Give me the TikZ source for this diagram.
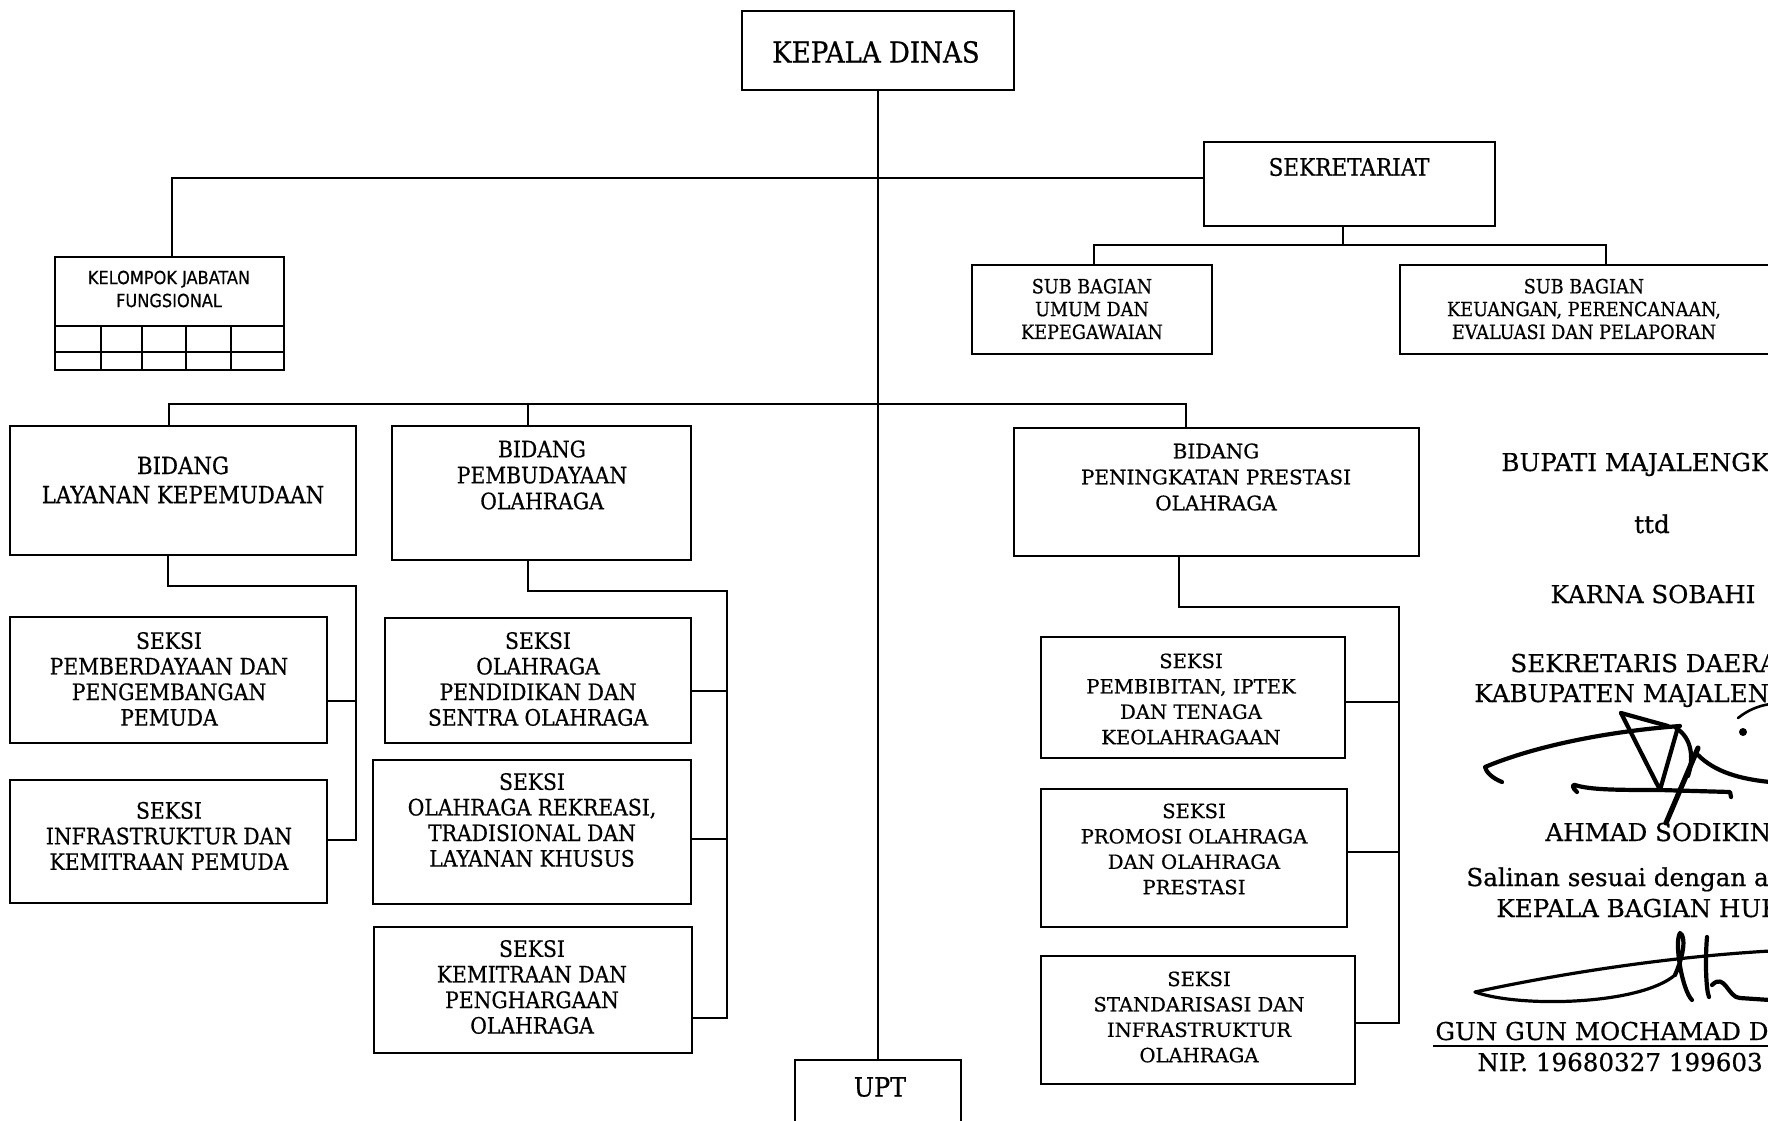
\documentclass[tikz,border=0pt]{standalone}
\usepackage{fontspec}
\setmainfont{DejaVu Serif}[FakeBold=0.6]
\newfontfamily\condserif{DejaVu Serif Condensed}[FakeBold=0.6]
\newfontfamily\condsans{DejaVu Sans Condensed}[FakeBold=0.5]
\usetikzlibrary{calc}

% box given by its corners (x1,y1) and (x2,y2), in picture units
\newcommand\orgbox[5]{%
  \pgfmathsetmacro\orgbxc{(#2+#4)/2}%
  \pgfmathsetmacro\orgbyc{(#3+#5)/2}%
  \pgfmathsetmacro\orgbw{(#4-#2)/2}%
  \pgfmathsetmacro\orgbh{(#5-#3)/2}%
  \node[box, minimum width=\orgbw pt, minimum height=\orgbh pt] (#1) at (\orgbxc,\orgbyc) {};}

\begin{document}
\begin{tikzpicture}[x=0.5pt,y=-0.5pt,
  box/.style={draw, line width=1.25pt, inner sep=0pt, outer sep=0pt},
  conn/.style={line width=1pt},
  boxtext/.style={align=center, inner sep=0pt, font=\condserif\fontsize{11.3}{12.8}\selectfont},
  widetext/.style={align=center, inner sep=0pt, font=\fontsize{9.8}{11.4}\selectfont},
  signtext/.style={inner sep=0pt, font=\fontsize{12.3}{14}\selectfont},
  pen/.style={line width=2.1pt, line cap=round, line join=round}]

\useasboundingbox (0,0) rectangle (1768,1120);
\clip (0,0) rectangle (1768,1120);

% ---------- boxes ----------
\orgbox{kd}{742}{11}{1014}{90}
\orgbox{sek}{1204}{142}{1495}{226}
\orgbox{sb1}{972}{265}{1212}{354}
\orgbox{sb2}{1400}{265}{1790}{354}
\orgbox{kjf}{55}{257}{284}{370}
\orgbox{bl}{10}{426}{356}{555}
\orgbox{bp}{392}{426}{691}{560}
\orgbox{bpp}{1014}{428}{1419}{556}
\orgbox{s1}{10}{617}{327}{743}
\orgbox{s2}{10}{780}{327}{903}
\orgbox{s3}{385}{618}{691}{743}
\orgbox{s4}{373}{760}{691}{904}
\orgbox{s5}{374}{927}{692}{1053}
\orgbox{s6}{1041}{637}{1345}{758}
\orgbox{s7}{1041}{789}{1347}{927}
\orgbox{s8}{1041}{956}{1355}{1084}
\orgbox{upt}{795}{1060}{961}{1150}

% grid of the functional group box
\draw[line width=1.25pt] (55,326) -- (284,326) (55,352) -- (284,352);
\foreach \gx in {101,142,186,231} \draw[line width=1.1pt] (\gx,326) -- (\gx,370);

% ---------- texts ----------
\node[boxtext, font=\condserif\fontsize{14.5}{16}\selectfont] (t-kd) at (876,52) {KEPALA DINAS};
\node[boxtext, font=\condserif\fontsize{12}{14}\selectfont] (t-sek) at (1349,167) {SEKRETARIAT};
\node[boxtext, font=\condserif\fontsize{9.8}{11.4}\selectfont] (t-sb1) at (1092,309) {SUB BAGIAN\\UMUM DAN\\KEPEGAWAIAN};
\node[boxtext, font=\condserif\fontsize{9.8}{11.4}\selectfont] (t-sb2) at (1584,309) {SUB BAGIAN\\KEUANGAN, PERENCANAAN,\\EVALUASI DAN PELAPORAN};
\node[boxtext, font=\condsans\fontsize{9}{11.5}\selectfont] (t-kjf) at (169,289) {KELOMPOK JABATAN\\FUNGSIONAL};
\node[boxtext, font=\condserif\fontsize{11.8}{14.6}\selectfont] (t-bl) at (183,480) {BIDANG\\LAYANAN KEPEMUDAAN};
\node[boxtext, font=\condserif\fontsize{11.3}{13}\selectfont] (t-bp) at (542,475) {BIDANG\\PEMBUDAYAAN\\OLAHRAGA};
\node[widetext, font=\fontsize{10}{13}\selectfont] (t-bpp) at (1216,477) {BIDANG\\PENINGKATAN PRESTASI\\OLAHRAGA};
\node[boxtext] (t-s1) at (169,679) {SEKSI\\PEMBERDAYAAN DAN\\PENGEMBANGAN\\PEMUDA};
\node[boxtext] (t-s2) at (169,836) {SEKSI\\INFRASTRUKTUR DAN\\KEMITRAAN PEMUDA};
\node[boxtext] (t-s3) at (538,679) {SEKSI\\OLAHRAGA\\PENDIDIKAN DAN\\SENTRA OLAHRAGA};
\node[boxtext] (t-s4) at (532,820) {SEKSI\\OLAHRAGA REKREASI,\\TRADISIONAL DAN\\LAYANAN KHUSUS};
\node[boxtext] (t-s5) at (532,987) {SEKSI\\KEMITRAAN DAN\\PENGHARGAAN\\OLAHRAGA};
\node[widetext, font=\fontsize{9.8}{12.7}\selectfont] (t-s6) at (1191,699) {SEKSI\\PEMBIBITAN, IPTEK\\DAN TENAGA\\KEOLAHRAGAAN};
\node[widetext, font=\fontsize{9.8}{12.7}\selectfont] (t-s7) at (1194,849) {SEKSI\\PROMOSI OLAHRAGA\\DAN OLAHRAGA\\PRESTASI};
\node[widetext, font=\fontsize{9.8}{12.7}\selectfont] (t-s8) at (1199,1017) {SEKSI\\STANDARISASI DAN\\INFRASTRUKTUR\\OLAHRAGA};
\node[boxtext, font=\condserif\fontsize{13.3}{15}\selectfont] (t-upt) at (880,1087) {UPT};

% ---------- connectors ----------
\draw[conn] (kd.south) -- (upt.north);
\draw[conn] ($(kjf.north west)+(117,0)$) |- ($(sek.north west)+(0,36)$);

\coordinate (sekbus) at ($(sek.south west)+(139,19)$);
\draw[conn] ($(sek.south west)+(139,0)$) -- (sekbus);
\draw[conn] ($(sb1.north west)+(122,0)$) |- (sekbus) -| ($(sb2.north west)+(206,0)$);

\coordinate (bidbus) at ($(kd.south)+(0,314)$);
\draw[conn] ($(bl.north west)+(159,0)$) |- (bidbus) -| ($(bpp.north west)+(172,0)$);
\draw[conn] ($(bp.north west)+(136,0)$) |- (bidbus);

\coordinate (lbus) at ($(bl.south east)+(0,31)$);
\draw[conn] ($(bl.south west)+(158,0)$) |- (lbus) |- ($(s2.east)+(0,-2)$);
\draw[conn] ($(s1.east)+(0,21)$) -| (lbus);

\coordinate (mbus) at ($(bp.south east)+(36,31)$);
\draw[conn] ($(bp.south west)+(136,0)$) |- (mbus) |- ($(s5.east)+(0,28)$);
\draw[conn] ($(s3.east)+(0,10)$) -| (mbus);
\draw[conn] ($(s4.east)+(0,7)$) -| (mbus);

\coordinate (rbus) at ($(bpp.south east)+(-20,51)$);
\draw[conn] ($(bpp.south west)+(165,0)$) |- (rbus) |- ($(s8.east)+(0,3)$);
\draw[conn] ($(s6.east)+(0,4)$) -| (rbus);
\draw[conn] ($(s7.east)+(0,-6)$) -| (rbus);

% ---------- signature block ----------
\node[signtext, anchor=base west] (bupati) at (1501,471) {BUPATI MAJALENGKA};
\node[signtext, anchor=base] (ttd) at (1652,533) {ttd};
\node[signtext, anchor=base] (karna) at (1653,603) {KARNA SOBAHI};
\node[signtext, anchor=base west] (sekda) at (1510,672) {SEKRETARIS DAERAH};
\node[signtext, anchor=base west] (kab) at (1474,702) {KABUPATEN MAJALENGKA};
\node[signtext, anchor=base west] (ahmad) at (1545,841) {AHMAD SODIKIN};
\node[signtext, anchor=base west] (salinan) at (1466,886) {Salinan sesuai dengan aslinya};
\node[signtext, anchor=base west] (kabag) at (1496,917) {KEPALA BAGIAN HUKUM};
\node[signtext, anchor=base west] (gungun) at (1435,1040) {GUN GUN MOCHAMAD D};
\node[signtext, anchor=base west] (nip) at (1477,1071) {NIP. 19680327 199603};
\draw[line width=1.1pt] ($(gungun.base west)+(-2,6)$) -- (1770,1046);

% first handwritten signature
\draw[pen] (1502,782) .. controls (1492,778) and (1486,772) .. (1485,767)
           .. controls (1530,748) and (1600,732) .. (1680,726);
\draw[pen] (1621,713) -- (1660,790) -- (1678,727);
\draw[pen] (1621,713) -- (1668,726);
\draw[pen] (1676,728) .. controls (1692,738) and (1694,758) .. (1688,776);
\draw[pen, line width=2.6pt] (1698,748) -- (1666,823);
\draw[pen] (1577,792) .. controls (1572,788) and (1572,784) .. (1575,785)
           .. controls (1590,790) and (1620,790) .. (1660,790) -- (1730,792) -- (1731,797);
\draw[pen] (1698,755) .. controls (1715,772) and (1740,779) .. (1770,782);
\fill (1743,732) circle (4);
\draw[pen, line width=1.3pt] (1738,718) .. controls (1748,710) and (1758,706) .. (1770,704);

% second handwritten signature
\draw[pen, line width=1.6pt] (1475,992) .. controls (1540,978) and (1650,958) .. (1770,951);
\draw[pen, line width=1.6pt] (1475,992) .. controls (1520,1008) and (1640,1005) .. (1675,975);
\draw[pen] (1675,975) .. controls (1684,955) and (1686,936) .. (1680,933)
           .. controls (1674,942) and (1682,990) .. (1692,1000);
\draw[pen] (1707,937) .. controls (1705,960) and (1706,990) .. (1709,997);
\draw[pen] (1712,985) .. controls (1725,972) and (1728,998) .. (1740,998) -- (1770,1000);

\end{tikzpicture}
\end{document}
